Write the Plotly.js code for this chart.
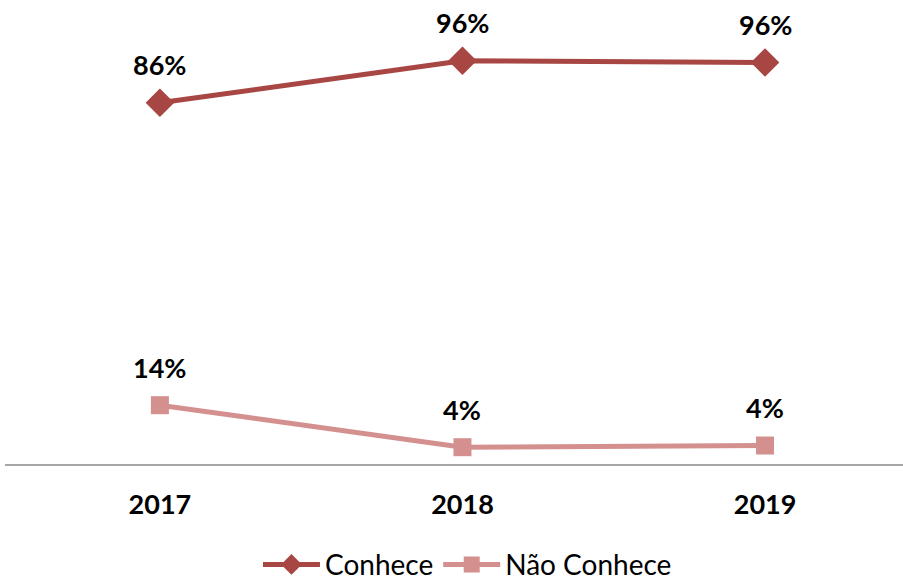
<!DOCTYPE html>
<html>
<head>
<meta charset="utf-8">
<script src="https://cdn.plot.ly/plotly-3.0.1.min.js"></script>
<style>html,body{margin:0;padding:0;background:#fff}#chart{width:903px;height:581px}</style>
</head>
<body>
<div id="chart"></div>
<script>
const years = ['2017', '2018', '2019'];
const conhece = [86, 96, 95.6];
const naoConhece = [14, 4, 4.4];
const seriesNames = ['Conhece', 'Não Conhece'];

const fam = 'Lato, "Liberation Sans", sans-serif';
const labelFont = {family: fam, size: 27, color: '#000'};

const traces = [
  {
    x: years, y: conhece, name: seriesNames[0], type: 'scatter', mode: 'lines+markers',
    line: {color: '#A84644', width: 5},
    marker: {symbol: 'diamond', size: 22, color: '#A84644'},
    cliponaxis: false
  },
  {
    x: years, y: naoConhece, name: seriesNames[1], type: 'scatter', mode: 'lines+markers',
    line: {color: '#D4908F', width: 5},
    marker: {symbol: 'square', size: 18, color: '#D4908F'},
    cliponaxis: false
  }
];

const annotations = [];
[conhece, naoConhece].forEach(series => {
  series.forEach((v, i) => {
    annotations.push({
      x: i, y: v, xref: 'x', yref: 'y',
      text: '<b>' + Math.round(v) + '%</b>',
      showarrow: false, yshift: 38, font: labelFont
    });
  });
});

const layout = {
  width: 903, height: 581,
  margin: {l: 5, r: 0, t: 44, b: 117},
  paper_bgcolor: '#fff', plot_bgcolor: '#fff',
  showlegend: true,
  annotations: annotations,
  legend: {orientation: 'h', x: 0.515, xanchor: 'center', yref: 'container', y: 0.028, yanchor: 'middle',
           font: {family: fam, size: 28, color: '#000'},
           itemwidth: 57, traceorder: 'normal'},
  xaxis: {type: 'category', range: [-0.512, 2.456], showgrid: false, zeroline: false,
          showline: true, linecolor: '#A6A6A6', linewidth: 2, ticks: '',
          tickfont: {family: fam, size: 27, color: '#000', weight: 'bold'},
          ticklabelstandoff: 16, fixedrange: true},
  yaxis: {range: [0, 100], visible: false, fixedrange: true}
};

Plotly.newPlot('chart', traces, layout, {displayModeBar: false, staticPlot: true});
</script>
</body>
</html>
